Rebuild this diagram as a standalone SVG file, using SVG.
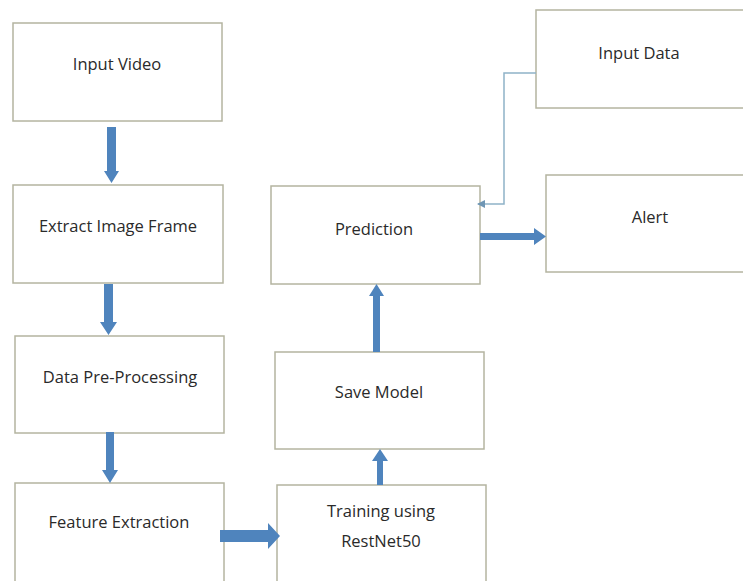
<svg xmlns="http://www.w3.org/2000/svg" width="743" height="581" viewBox="0 0 743 581">
<style>
.box{fill:#fff;stroke:#b4b4a0;stroke-width:1.5}
.t{font-family:"Open Sans","Liberation Sans",sans-serif;font-size:16.5px;fill:#2a2a2a;text-anchor:middle}
.ar{fill:#4f84bd}
.thin{fill:none;stroke:#8fb2c8;stroke-width:1.5}
</style>
<defs>
<marker id="mh" markerWidth="8" markerHeight="8" refX="7" refY="4" orient="auto" markerUnits="userSpaceOnUse">
<path d="M0,0 L8,4 L0,8 z" fill="#6f96b4"/>
</marker>
</defs>
<rect width="743" height="581" fill="#fff"/>
<g id="input-video"><rect class="box" x="13" y="23" width="209" height="98"/><text class="t" x="117" y="70">Input Video</text></g>
<g id="extract-image-frame"><rect class="box" x="13" y="185" width="210" height="98"/><text class="t" x="118" y="232">Extract Image Frame</text></g>
<g id="data-pre-processing"><rect class="box" x="15" y="336" width="209" height="97"/><text class="t" x="120" y="383">Data Pre-Processing</text></g>
<g id="feature-extraction"><rect class="box" x="15" y="483" width="209" height="110"/><text class="t" x="119" y="528">Feature Extraction</text></g>
<g id="training"><rect class="box" x="277" y="485" width="209" height="110"/><text class="t" x="381" y="517">Training using</text><text class="t" x="381" y="547">RestNet50</text></g>
<g id="save-model"><rect class="box" x="275" y="352" width="209" height="97"/><text class="t" x="379" y="398">Save Model</text></g>
<g id="prediction"><rect class="box" x="271" y="186" width="209" height="98"/><text class="t" x="374" y="235">Prediction</text></g>
<g id="input-data"><rect class="box" x="536" y="10" width="215" height="98"/><text class="t" x="639" y="59">Input Data</text></g>
<g id="alert"><rect class="box" x="546" y="175" width="205" height="97"/><text class="t" x="650" y="223">Alert</text></g>
<g id="connectors">
<path class="ar" d="M107,127 H116 V171 H119 L111.5,183 L104,171 H107 Z"/>
<path class="ar" d="M104,284 H113 V322 H117 L108.5,335 L100,322 H104 Z"/>
<path class="ar" d="M106,432 H114 V470 H118 L110,483 L102,470 H106 Z"/>
<path class="ar" d="M220,530 H268 V523 L280,536 L268,549 V542 H220 Z"/>
<path class="ar" d="M377,485 V461 H372 L380,449 L388,461 H383 V485 Z"/>
<path class="ar" d="M373,352 V296 H369 L376.5,284 L384,296 H380 V352 Z"/>
<path class="ar" d="M480,233 H534 V228 L546,236.5 L534,245 V240 H480 Z"/>
<path class="thin" d="M536,73 H504 V204 H478" marker-end="url(#mh)"/>
</g>
</svg>
